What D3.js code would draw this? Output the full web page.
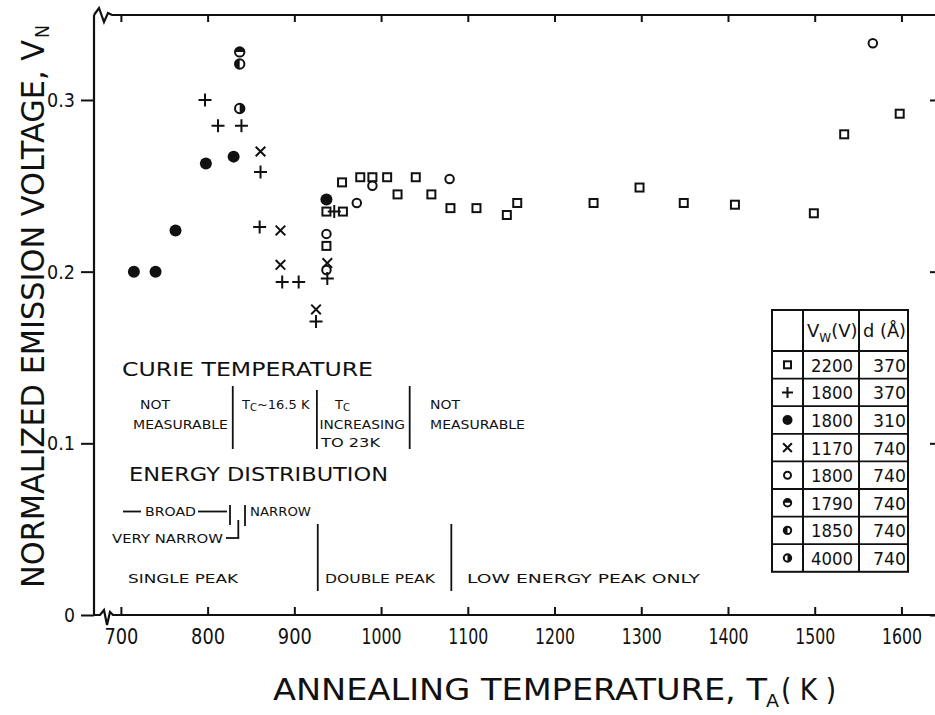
<!DOCTYPE html>
<html>
<head>
<meta charset="utf-8">
<script src="https://d3js.org/d3.v7.min.js"></script>
<style>
body { margin: 0; background: #fff; }
text { font-family: "DejaVu Sans", sans-serif; fill: #111; }
</style>
</head>
<body>
<div id="chart"></div>
<script>

// tick values
var tempTicks = [700, 800, 900, 1000, 1100, 1200, 1300, 1400, 1500, 1600];
var voltTicks = [0, 0.1, 0.2, 0.3];

// series: [annealing temperature (K), normalized emission voltage]
var sq2200 = [[937, 0.215], [937, 0.235], [956, 0.235], [955, 0.252], [976, 0.255], [990, 0.255],
    [1007, 0.255], [1019, 0.245], [1040, 0.255], [1058, 0.245], [1080, 0.237], [1110, 0.237],
    [1145, 0.233], [1157, 0.240], [1245, 0.240], [1298, 0.249], [1349, 0.240], [1408, 0.239],
    [1499, 0.234], [1534, 0.280], [1598, 0.292]];
var plus1800 = [[797, 0.300], [812, 0.285], [839, 0.285], [861, 0.258], [860, 0.226], [886, 0.194],
    [905, 0.194], [938, 0.196], [925, 0.171], [946, 0.235]];
var dot1800 = [[715, 0.200], [740, 0.200], [763, 0.224], [798, 0.263], [830, 0.267], [937, 0.242]];
var cross1170 = [[861, 0.270], [884, 0.224], [884, 0.204], [925, 0.178], [938, 0.205]];
var ring1800 = [[937, 0.222], [937, 0.201], [972, 0.240], [990, 0.250], [1079, 0.254], [1567, 0.333]];
var halfTop1790 = [[837, 0.328]];
var halfLeft1850 = [[837, 0.321]];
var halfRight4000 = [[837, 0.295]];

// legend table rows
var legendSymbols = ["square", "plus", "dot", "cross", "ring", "halfTop", "halfLeft", "halfRight"];
var legendVw = ["2200", "1800", "1800", "1170", "1800", "1790", "1850", "4000"];
var legendD = ["370", "370", "310", "740", "740", "740", "740", "740"];

// region boundaries (K)
var curieBounds = [829, 926, 1033];
var energyBounds = [927, 1081];

var W = 935, H = 715;
var svg = d3.select("#chart").append("svg")
    .attr("width", W)
    .attr("height", H);

var x = d3.scaleLinear().domain([669, 1641]).range([94, 937]);
var y = d3.scaleLinear().domain([0, 0.3495]).range([615, 15]);

var ink = "#111";

// --- frame with axis breaks
svg.append("path")
    .attr("d", "M94,15 L99,8 L104,22 L108,13 L112,15 H937 M94,15 V615 H100 L104,610 L107,625 L110,612 L113,615 H937")
    .attr("fill", "none").attr("stroke", ink).attr("stroke-width", 2.2);

// bottom axis: inward ticks
var xAxis = d3.axisBottom(x).tickValues(tempTicks).tickSizeInner(-8).tickSizeOuter(0).tickPadding(14)
    .tickFormat(d3.format("d"));
var gx = svg.append("g").attr("transform", "translate(0,615)").call(xAxis);
gx.select(".domain").remove();
gx.selectAll("line").attr("stroke", ink).attr("stroke-width", 2);
gx.selectAll("text")
    .attr("font-size", 21)
    .attr("fill", ink)
    .attr("textLength", function(d){ return String(d).length > 3 ? 40 : 34; })
    .attr("lengthAdjust", "spacingAndGlyphs");

// top axis ticks
var gt = svg.append("g").attr("transform", "translate(0,15)")
    .call(d3.axisTop(x).tickValues(tempTicks).tickSizeInner(-7).tickSizeOuter(0).tickFormat(""));
gt.select(".domain").remove();
gt.selectAll("line").attr("stroke", ink).attr("stroke-width", 2);

// left axis
var yAxis = d3.axisLeft(y).tickValues(voltTicks).tickSizeInner(13).tickSizeOuter(0).tickPadding(6)
    .tickFormat(function(d){ return d === 0 ? "0" : d3.format(".1f")(d); });
var gy = svg.append("g").attr("transform", "translate(94,0)").call(yAxis);
gy.select(".domain").remove();
gy.selectAll("line").attr("stroke", ink).attr("stroke-width", 2);
gy.selectAll("text")
    .attr("font-size", 20)
    .attr("fill", ink)
    .attr("textLength", function(d){ return d === 0 ? 11 : 28; })
    .attr("lengthAdjust", "spacingAndGlyphs");

// right axis ticks (frame edge is just off the picture)
var gr = svg.append("g").attr("transform", "translate(937,0)")
    .call(d3.axisRight(y).tickValues(voltTicks).tickSizeInner(-7).tickSizeOuter(0).tickFormat(""));
gr.select(".domain").remove();
gr.selectAll("line").attr("stroke", ink).attr("stroke-width", 2);

// --- axis titles
var ylab = svg.append("g").attr("transform", "translate(44,588) rotate(-90)");
ylab.append("text").attr("x", 0).attr("y", 0)
    .attr("font-size", 32)
    .attr("textLength", 548).attr("lengthAdjust", "spacingAndGlyphs")
    .text("NORMALIZED EMISSION VOLTAGE, V");
ylab.append("text").attr("x", 550).attr("y", 5)
    .attr("font-size", 19)
    .attr("textLength", 13).attr("lengthAdjust", "spacingAndGlyphs")
    .text("N");

svg.append("text").attr("x", 273).attr("y", 700)
    .attr("font-size", 31)
    .attr("textLength", 494).attr("lengthAdjust", "spacingAndGlyphs")
    .text("ANNEALING TEMPERATURE, T");
svg.append("text").attr("x", 766).attr("y", 707)
    .attr("font-size", 18)
    .attr("textLength", 13).attr("lengthAdjust", "spacingAndGlyphs")
    .text("A");
svg.append("text").attr("x", 781).attr("y", 700)
    .attr("font-size", 31)
    .attr("textLength", 55).attr("lengthAdjust", "spacingAndGlyphs")
    .text("( K )");

// --- markers
function drawMarker(g, type, s) {
    // s = nominal size in px
    var r = s / 2;
    if (type === "square") {
        g.append("rect").attr("x", -r + 1).attr("y", -r + 1).attr("width", s - 2).attr("height", s - 2)
            .attr("fill", "#fff").attr("stroke", ink).attr("stroke-width", 2);
    } else if (type === "plus") {
        g.append("path").attr("d", "M" + (-r) + ",0H" + r + "M0," + (-r) + "V" + r)
            .attr("stroke", ink).attr("stroke-width", 2);
    } else if (type === "cross") {
        var c = r * 0.8;
        g.append("path").attr("d", "M" + (-c) + "," + (-c) + "L" + c + "," + c + "M" + (-c) + "," + c + "L" + c + "," + (-c))
            .attr("stroke", ink).attr("stroke-width", 2);
    } else if (type === "dot") {
        g.append("circle").attr("r", r).attr("fill", ink);
    } else if (type === "ring") {
        g.append("circle").attr("r", r - 1).attr("fill", "#fff").attr("stroke", ink).attr("stroke-width", 2);
    } else {
        var rr = r - 0.8;
        var half;
        if (type === "halfTop") half = "M" + (-rr) + ",0A" + rr + "," + rr + " 0 0 1 " + rr + ",0Z";
        else if (type === "halfLeft") half = "M0," + (-rr) + "A" + rr + "," + rr + " 0 0 0 0," + rr + "Z";
        else half = "M0," + (-rr) + "A" + rr + "," + rr + " 0 0 1 0," + rr + "Z";
        g.append("circle").attr("r", rr).attr("fill", "#fff").attr("stroke", ink).attr("stroke-width", 2);
        g.append("path").attr("d", half).attr("fill", ink);
    }
}

var seriesList = [
    {data: sq2200, type: "square", size: 10},
    {data: ring1800, type: "ring", size: 10.5},
    {data: cross1170, type: "cross", size: 12},
    {data: plus1800, type: "plus", size: 13},
    {data: dot1800, type: "dot", size: 12},
    {data: halfTop1790, type: "halfTop", size: 11},
    {data: halfLeft1850, type: "halfLeft", size: 11},
    {data: halfRight4000, type: "halfRight", size: 11}
];

seriesList.forEach(function(s){
    svg.append("g").selectAll("g")
        .data(s.data)
        .enter().append("g")
        .attr("transform", function(d){ return "translate(" + x(d[0]) + "," + y(d[1]) + ")"; })
        .each(function(){ drawMarker(d3.select(this), s.type, s.size); });
});

// --- annotations
var notes = svg.append("g");
function note(str, px, py, size, len) {
    var t = notes.append("text").attr("x", px).attr("y", py).attr("font-size", size).text(str);
    if (len) t.attr("textLength", len).attr("lengthAdjust", "spacingAndGlyphs");
    return t;
}
function rule(x1, y1, x2, y2) {
    notes.append("line").attr("x1", x1).attr("y1", y1).attr("x2", x2).attr("y2", y2)
        .attr("stroke", ink).attr("stroke-width", 1.8);
}

note("CURIE TEMPERATURE", 122, 376, 19, 251);
note("NOT", 140, 409, 13, 30);
note("MEASURABLE", 133, 429, 13, 95);
var tc1 = notes.append("text").attr("x", 242).attr("y", 409).attr("font-size", 13);
tc1.append("tspan").text("T");
tc1.append("tspan").attr("font-size", 10).attr("dy", 2).text("C");
tc1.append("tspan").attr("dy", -2).text("~16.5 K");
var tc2 = notes.append("text").attr("x", 335).attr("y", 409).attr("font-size", 13);
tc2.append("tspan").text("T");
tc2.append("tspan").attr("font-size", 10).attr("dy", 2).text("C");
note("INCREASING", 319.5, 429, 13, 85.5);
note("TO  23K", 321, 447, 13, 59);
note("NOT", 430, 409, 13, 30);
note("MEASURABLE", 430, 429, 13, 95);

curieBounds.forEach(function(t, i){
    rule(x(t), i === 1 ? 390 : 386, x(t), 449);
});

note("ENERGY  DISTRIBUTION", 129, 481, 19, 259);
rule(123, 511.5, 141, 511.5);
note("BROAD", 145, 516, 13, 51);
rule(198, 511.5, 227, 511.5);
rule(230, 505, 230, 525);
rule(238.3, 520, 238.3, 538);
rule(245, 505, 245, 526);
note("NARROW", 250, 516, 13, 61);
note("VERY NARROW", 112, 543, 13, 111);
rule(226, 538, 239.2, 538);

note("SINGLE  PEAK", 128, 583, 13, 110);
note("DOUBLE  PEAK", 325, 583, 13, 110);
note("LOW  ENERGY  PEAK  ONLY", 467, 583, 13, 233);
energyBounds.forEach(function(t){
    rule(x(t), 524, x(t), 591);
});

// --- legend table
var tbl = svg.append("g");
var tLeft = 772, tRight = 908, col1 = 803, col2 = 859;
var tTop = 310, headBottom = 351, rowH = 27.6;
var tBottom = headBottom + rowH * legendVw.length;

tbl.append("rect").attr("x", tLeft).attr("y", tTop).attr("width", tRight - tLeft).attr("height", tBottom - tTop)
    .attr("fill", "#fff").attr("stroke", ink).attr("stroke-width", 2);
[col1, col2].forEach(function(cx){
    tbl.append("line").attr("x1", cx).attr("x2", cx).attr("y1", tTop).attr("y2", tBottom)
        .attr("stroke", ink).attr("stroke-width", 2);
});
d3.range(legendVw.length).forEach(function(i){
    var ly = headBottom + rowH * i;
    tbl.append("line").attr("x1", tLeft).attr("x2", tRight).attr("y1", ly).attr("y2", ly)
        .attr("stroke", ink).attr("stroke-width", 1.8);
});

var hv = tbl.append("text").attr("x", 807).attr("y", 337).attr("font-size", 18);
hv.append("tspan").text("V");
hv.append("tspan").attr("font-size", 12).attr("dy", 5).text("W");
hv.append("tspan").attr("dy", -5).text("(V)");
tbl.append("text").attr("x", 863).attr("y", 337).attr("font-size", 18)
    .attr("textLength", 43).attr("lengthAdjust", "spacingAndGlyphs").text("d (Å)");

var rows = tbl.selectAll(".row")
    .data(legendVw)
    .enter().append("g")
    .attr("class", "row")
    .attr("transform", function(d, i){ return "translate(0," + (headBottom + rowH * (i + 0.5)) + ")"; });

rows.each(function(d, i){
    var g = d3.select(this).append("g").attr("transform", "translate(" + ((tLeft + col1) / 2) + ",0)");
    var s = legendSymbols[i];
    drawMarker(g, s, s === "plus" ? 11 : (s === "dot" ? 10 : (s === "cross" ? 11 : 9)));
});
rows.append("text")
    .attr("x", 853).attr("y", 7).attr("font-size", 18).attr("text-anchor", "end")
    .attr("textLength", 42).attr("lengthAdjust", "spacingAndGlyphs")
    .text(function(d){ return d; });
rows.append("text")
    .attr("x", 906).attr("y", 7).attr("font-size", 18).attr("text-anchor", "end")
    .attr("textLength", 33).attr("lengthAdjust", "spacingAndGlyphs")
    .text(function(d, i){ return legendD[i]; });

</script>
</body>
</html>
